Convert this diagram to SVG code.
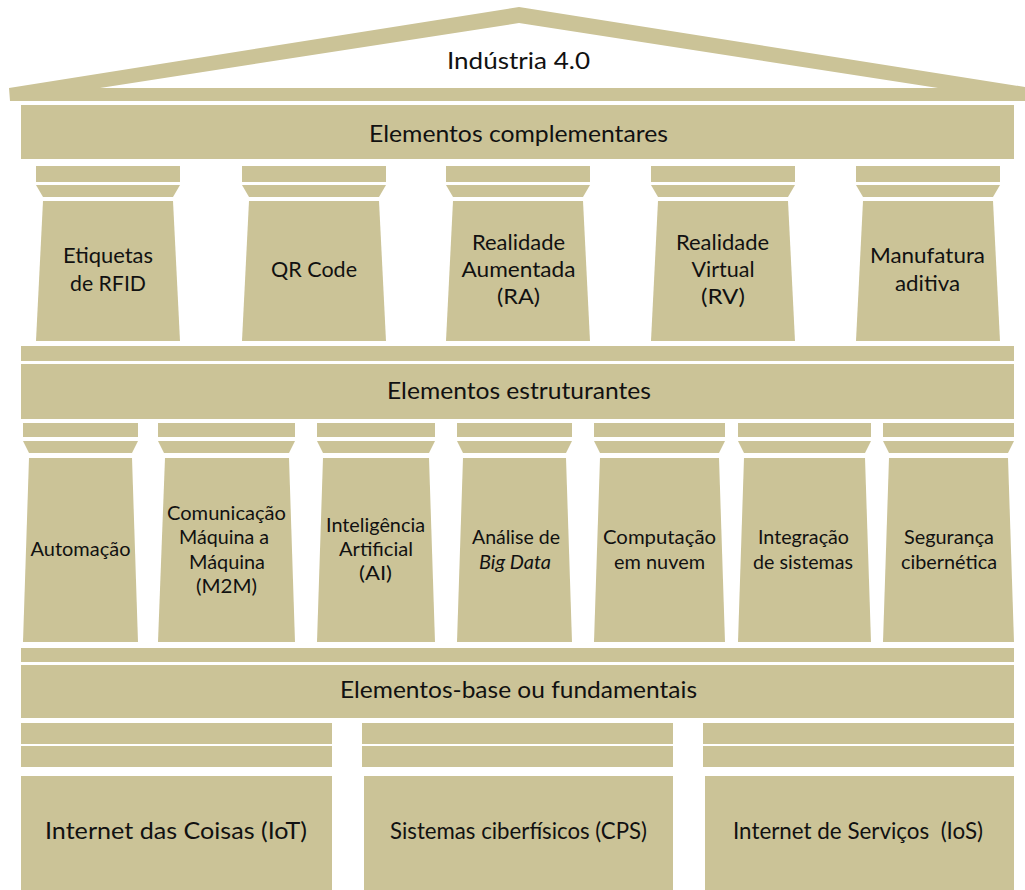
<svg xmlns="http://www.w3.org/2000/svg" width="1025" height="890" viewBox="0 0 1025 890">
<style>
.f{fill:#cbc397}
text{font-family:Lato,"Liberation Sans","Noto Sans",sans-serif;fill:#111;text-anchor:middle}
.tt{font-size:24px}
.bd{font-size:23px}
.r1{font-size:21.5px}
.r2{font-size:19px}
.bs{font-size:23px}
</style>
<rect width="1025" height="890" fill="#fff"/>
<g id="roof">
<path class="f" fill-rule="evenodd" d="M9,88 L519,7 L1025,87 L1025,101 L10,101 Z M100,88 L938,88 L519,23 Z"/>
<text class="tt" x="518.5" y="69" textLength="143" lengthAdjust="spacingAndGlyphs">Indústria 4.0</text>
</g>
<g id="band-complementares">
<rect class="f" x="21" y="105" width="993" height="54"/>
<text class="bd" x="518.5" y="142" textLength="299" lengthAdjust="spacingAndGlyphs">Elementos complementares</text>
</g>
<g id="col-rfid">
<rect class="f" x="36" y="166" width="144" height="16"/>
<polygon class="f" points="36,185 180,185 173,197 43,197"/>
<polygon class="f" points="43,201 173,201 180,341 36,341"/>
<text class="r1" x="108" y="263" textLength="90" lengthAdjust="spacingAndGlyphs">Etiquetas</text>
<text class="r1" x="108" y="291" textLength="76" lengthAdjust="spacingAndGlyphs">de RFID</text>
</g>
<g id="col-qr">
<rect class="f" x="242" y="166" width="144" height="16"/>
<polygon class="f" points="242,185 386,185 379,197 249,197"/>
<polygon class="f" points="249,201 379,201 386,341 242,341"/>
<text class="r1" x="314" y="277" textLength="86" lengthAdjust="spacingAndGlyphs">QR Code</text>
</g>
<g id="col-ra">
<rect class="f" x="446" y="166" width="144" height="16"/>
<polygon class="f" points="446,185 590,185 583,197 453,197"/>
<polygon class="f" points="453,201 583,201 590,341 446,341"/>
<text class="r1" x="518.5" y="250" textLength="93" lengthAdjust="spacingAndGlyphs">Realidade</text>
<text class="r1" x="518.5" y="277" textLength="114" lengthAdjust="spacingAndGlyphs">Aumentada</text>
<text class="r1" x="518.5" y="304" textLength="43" lengthAdjust="spacingAndGlyphs">(RA)</text>
</g>
<g id="col-rv">
<rect class="f" x="651" y="166" width="144" height="16"/>
<polygon class="f" points="651,185 795,185 788,197 658,197"/>
<polygon class="f" points="658,201 788,201 795,341 651,341"/>
<text class="r1" x="722.5" y="250" textLength="93" lengthAdjust="spacingAndGlyphs">Realidade</text>
<text class="r1" x="723" y="277" textLength="63" lengthAdjust="spacingAndGlyphs">Virtual</text>
<text class="r1" x="723" y="304" textLength="44" lengthAdjust="spacingAndGlyphs">(RV)</text>
</g>
<g id="col-manufatura">
<rect class="f" x="856" y="166" width="144" height="16"/>
<polygon class="f" points="856,185 1000,185 993,197 863,197"/>
<polygon class="f" points="863,201 993,201 1000,341 856,341"/>
<text class="r1" x="927.5" y="263" textLength="115" lengthAdjust="spacingAndGlyphs">Manufatura</text>
<text class="r1" x="927.5" y="291" textLength="65" lengthAdjust="spacingAndGlyphs">aditiva</text>
</g>
<g id="band-estruturantes">
<rect class="f" x="21" y="346" width="993" height="15"/>
<rect class="f" x="21" y="364" width="993" height="55"/>
<text class="bd" x="519" y="399" textLength="264" lengthAdjust="spacingAndGlyphs">Elementos estruturantes</text>
</g>
<g id="col-automacao">
<rect class="f" x="23" y="423" width="115" height="14"/>
<polygon class="f" points="23,441 138,441 132,453 29,453"/>
<polygon class="f" points="29,458 132,458 138,642 23,642"/>
<text class="r2" x="80.5" y="556" textLength="100" lengthAdjust="spacingAndGlyphs">Automação</text>
</g>
<g id="col-m2m">
<rect class="f" x="158" y="423" width="137" height="14"/>
<polygon class="f" points="158,441 295,441 289,453 164,453"/>
<polygon class="f" points="165,458 289,458 295,642 158,642"/>
<text class="r2" x="226.5" y="519.5" textLength="119" lengthAdjust="spacingAndGlyphs">Comunicação</text>
<text class="r2" x="224" y="544" textLength="90" lengthAdjust="spacingAndGlyphs">Máquina a</text>
<text class="r2" x="227" y="568.5" textLength="76" lengthAdjust="spacingAndGlyphs">Máquina</text>
<text class="r2" x="226.5" y="593" textLength="61" lengthAdjust="spacingAndGlyphs">(M2M)</text>
</g>
<g id="col-ai">
<rect class="f" x="317" y="423" width="118" height="14"/>
<polygon class="f" points="317,441 435,441 429,453 323,453"/>
<polygon class="f" points="323,458 429,458 435,642 317,642"/>
<text class="r2" x="375.5" y="532" textLength="99" lengthAdjust="spacingAndGlyphs">Inteligência</text>
<text class="r2" x="376" y="556" textLength="74" lengthAdjust="spacingAndGlyphs">Artificial</text>
<text class="r2" x="375.5" y="580" textLength="33" lengthAdjust="spacingAndGlyphs">(AI)</text>
</g>
<g id="col-bigdata">
<rect class="f" x="457" y="423" width="115" height="14"/>
<polygon class="f" points="457,441 572,441 566,453 463,453"/>
<polygon class="f" points="463,458 566,458 572,642 457,642"/>
<text class="r2" x="516" y="544" textLength="88" lengthAdjust="spacingAndGlyphs">Análise de</text>
<text class="r2" x="515" y="568.5" font-style="italic" textLength="72" lengthAdjust="spacingAndGlyphs">Big Data</text>
</g>
<g id="col-nuvem">
<rect class="f" x="594" y="423" width="131" height="14"/>
<polygon class="f" points="594,441 725,441 719,453 600,453"/>
<polygon class="f" points="600,458 719,458 725,642 594,642"/>
<text class="r2" x="659.5" y="544" textLength="113" lengthAdjust="spacingAndGlyphs">Computação</text>
<text class="r2" x="659.5" y="568.5" textLength="91" lengthAdjust="spacingAndGlyphs">em nuvem</text>
</g>
<g id="col-integracao">
<rect class="f" x="738" y="423" width="133" height="14"/>
<polygon class="f" points="738,441 871,441 865,453 744,453"/>
<polygon class="f" points="744,458 865,458 871,642 738,642"/>
<text class="r2" x="803.5" y="544" textLength="91" lengthAdjust="spacingAndGlyphs">Integração</text>
<text class="r2" x="803" y="568.5" textLength="100" lengthAdjust="spacingAndGlyphs">de sistemas</text>
</g>
<g id="col-seguranca">
<rect class="f" x="883" y="423" width="131" height="14"/>
<polygon class="f" points="883,441 1014,441 1008,453 889,453"/>
<polygon class="f" points="889,458 1008,458 1014,642 883,642"/>
<text class="r2" x="949" y="544" textLength="90" lengthAdjust="spacingAndGlyphs">Segurança</text>
<text class="r2" x="949" y="568.5" textLength="96" lengthAdjust="spacingAndGlyphs">cibernética</text>
</g>
<g id="band-base">
<rect class="f" x="21" y="648" width="993" height="14"/>
<rect class="f" x="21" y="665" width="993" height="53"/>
<text class="bd" x="518.5" y="698" textLength="357" lengthAdjust="spacingAndGlyphs">Elementos-base ou fundamentais</text>
</g>
<g id="base-iot">
<rect class="f" x="21" y="723" width="311" height="21"/>
<rect class="f" x="21" y="746" width="311" height="21"/>
<rect class="f" x="21" y="776" width="311" height="114"/>
<text class="bs" x="176" y="839" font-size="24" textLength="262" lengthAdjust="spacingAndGlyphs">Internet das Coisas (IoT)</text>
</g>
<g id="base-cps">
<rect class="f" x="362" y="723" width="311" height="21"/>
<rect class="f" x="362" y="746" width="311" height="21"/>
<rect class="f" x="364" y="776" width="309" height="114"/>
<text class="bs" x="518.5" y="839" textLength="257" lengthAdjust="spacingAndGlyphs">Sistemas ciberfísicos (CPS)</text>
</g>
<g id="base-ios">
<rect class="f" x="703" y="723" width="311" height="21"/>
<rect class="f" x="703" y="746" width="311" height="21"/>
<rect class="f" x="705" y="776" width="309" height="114"/>
<text class="bs" x="858" y="839" xml:space="preserve" style="white-space:pre" textLength="250" lengthAdjust="spacingAndGlyphs">Internet de Serviços  (IoS)</text>
</g>
<g id="connectors"></g>
</svg>
